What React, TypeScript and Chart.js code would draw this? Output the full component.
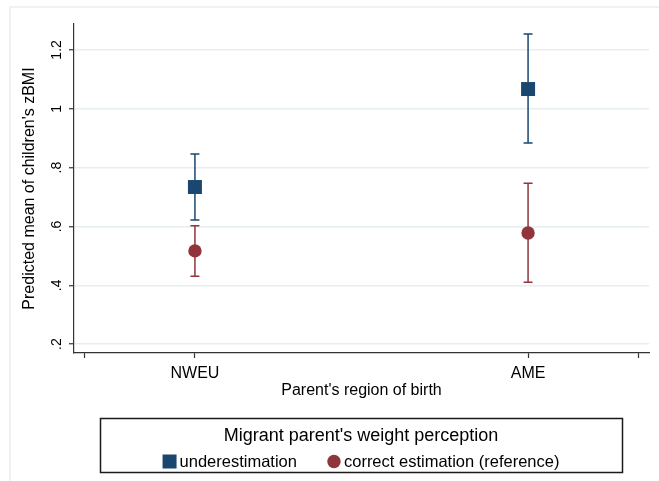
import { useEffect, useRef } from 'react';
import { Chart, registerables } from 'chart.js';

Chart.register(...registerables);

// ---- data ----
const categories = ['NWEU', 'AME'];
const categoryPositions = [1, 2];
const seriesLabels = ['underestimation', 'correct estimation (reference)'];
const legendTitle = "Migrant parent's weight perception";
const xAxisTitle = "Parent's region of birth";
const yAxisTitle = "Predicted mean of children's zBMI";

const underMean = [0.734, 1.067];
const underLow = [0.622, 0.884];
const underHigh = [0.846, 1.254];

const correctMean = [0.517, 0.578];
const correctLow = [0.431, 0.41];
const correctHigh = [0.602, 0.747];

const xTickValues = [0.67, 1, 2, 2.33];
const xTickLabels = ['', categories[0], categories[1], ''];
const yTickValues = [0.2, 0.4, 0.6, 0.8, 1, 1.2];
const yTickLabels = ['.2', '.4', '.6', '.8', '1', '1.2'];

const NAVY = '#1a476f';
const MAROON = '#90353b';
const FONT = '"Liberation Sans", Arial, Helvetica, sans-serif';

const backgroundPlugin = {
  id: 'stataBackground',
  beforeDraw(chart: any) {
    const { ctx, width, height } = chart;
    ctx.save();
    ctx.fillStyle = '#ffffff';
    ctx.fillRect(0, 0, width, height);
    ctx.strokeStyle = '#e8eff1';
    ctx.lineWidth = 1.5;
    ctx.strokeRect(10, 7, width + 20, height + 20);
    ctx.restore();
  },
};

const errorBarPlugin = {
  id: 'errorBars',
  beforeDatasetsDraw(chart: any) {
    const { ctx } = chart;
    const xs = chart.scales.x;
    const ys = chart.scales.y;
    chart.data.datasets.forEach((ds: any) => {
      ctx.save();
      ctx.strokeStyle = ds.borderColor;
      ctx.lineWidth = 1.5;
      ds.data.forEach((p: any, j: number) => {
        const px = xs.getPixelForValue(p.x);
        const yl = ys.getPixelForValue(ds.ciLow[j]);
        const yh = ys.getPixelForValue(ds.ciHigh[j]);
        ctx.beginPath();
        ctx.moveTo(px, yl);
        ctx.lineTo(px, yh);
        ctx.moveTo(px - 4.5, yl);
        ctx.lineTo(px + 4.5, yl);
        ctx.moveTo(px - 4.5, yh);
        ctx.lineTo(px + 4.5, yh);
        ctx.stroke();
      });
      ctx.restore();
    });
  },
};

const legendBoxPlugin = {
  id: 'legendBox',
  afterDraw(chart: any) {
    const { ctx } = chart;
    const left = 100;
    const top = 418;
    const right = 622;
    const bottom = 472;
    const cx = (left + right) / 2;
    ctx.save();
    ctx.strokeStyle = '#1a1a1a';
    ctx.lineWidth = 1.5;
    ctx.strokeRect(left + 0.5, top + 0.5, right - left, bottom - top);

    ctx.fillStyle = '#000';
    ctx.font = `18px ${FONT}`;
    ctx.textAlign = 'center';
    ctx.textBaseline = 'alphabetic';
    ctx.fillText(legendTitle, cx, 441);

    ctx.font = `16.5px ${FONT}`;
    const items = chart.data.datasets.map((ds: any) => ({
      label: ds.label,
      color: ds.backgroundColor,
      style: ds.pointStyle,
    }));
    const markerW = 14;
    const gapMT = 3;
    const gapItems = 30;
    const widths = items.map((it: any) => markerW + gapMT + ctx.measureText(it.label).width);
    const total = widths.reduce((a: number, b: number) => a + b, 0) + gapItems * (items.length - 1);
    let x = cx - total / 2;
    const rowY = 461.5;
    items.forEach((it: any, i: number) => {
      ctx.fillStyle = it.color;
      if (it.style === 'rect') {
        ctx.fillRect(x, rowY - 7, 14, 14);
      } else {
        ctx.beginPath();
        ctx.arc(x + 7, rowY, 6.7, 0, Math.PI * 2);
        ctx.fill();
      }
      ctx.fillStyle = '#000';
      ctx.textAlign = 'left';
      ctx.textBaseline = 'alphabetic';
      ctx.fillText(it.label, x + markerW + gapMT, 467);
      x += widths[i] + gapItems;
    });
    ctx.restore();
  },
};

export default function App() {
  const canvasRef = useRef<HTMLCanvasElement | null>(null);

  useEffect(() => {
    if (!canvasRef.current) return;
    const chart = new Chart(canvasRef.current, {
      type: 'scatter',
      data: {
        datasets: [
          {
            label: seriesLabels[0],
            data: categoryPositions.map((x, i) => ({ x, y: underMean[i] })),
            pointStyle: 'rect',
            pointRadius: 9.9,
            pointHoverRadius: 9.9,
            backgroundColor: NAVY,
            borderColor: NAVY,
            borderWidth: 0,
            ciLow: underLow,
            ciHigh: underHigh,
          } as any,
          {
            label: seriesLabels[1],
            data: categoryPositions.map((x, i) => ({ x, y: correctMean[i] })),
            pointStyle: 'circle',
            pointRadius: 6.7,
            pointHoverRadius: 6.7,
            backgroundColor: MAROON,
            borderColor: MAROON,
            borderWidth: 0,
            ciLow: correctLow,
            ciHigh: correctHigh,
          } as any,
        ],
      },
      options: {
        animation: false,
        responsive: false,
        devicePixelRatio: 1,
        events: [],
        layout: { padding: { top: 24, right: 10, left: 0, bottom: 78 } },
        plugins: {
          legend: { display: false },
          tooltip: { enabled: false },
        },
        scales: {
          x: {
            type: 'linear',
            min: 0.637,
            max: 2.363,
            afterBuildTicks: (s: any) => {
              s.ticks = xTickValues.map((v) => ({ value: v }));
            },
            afterFit: (s: any) => {
              s.height = 50;
            },
            border: { color: '#333', width: 1.2 },
            grid: { drawOnChartArea: false, tickColor: '#333', tickLength: 5, tickWidth: 1.2 },
            ticks: {
              autoSkip: false,
              maxRotation: 0,
              minRotation: 0,
              padding: 6,
              color: '#000',
              font: { family: FONT, size: 16 },
              callback: (_v: any, i: number) => xTickLabels[i],
            },
            title: {
              display: true,
              text: xAxisTitle,
              color: '#000',
              font: { family: FONT, size: 16 },
              padding: { top: 0, bottom: 3 },
            },
          },
          y: {
            type: 'linear',
            min: 0.17,
            max: 1.288,
            afterBuildTicks: (s: any) => {
              s.ticks = yTickValues.map((v) => ({ value: v }));
            },
            afterFit: (s: any) => {
              s.width = 74;
            },
            border: { color: '#333', width: 1.2 },
            grid: { color: '#e6eef1', lineWidth: 1.5, tickColor: '#333', tickLength: 5, tickWidth: 1.2 },
            ticks: {
              autoSkip: false,
              minRotation: 90,
              maxRotation: 90,
              crossAlign: 'center',
              padding: 2,
              color: '#000',
              font: { family: FONT, size: 14 },
              callback: (_v: any, i: number) => yTickLabels[i],
            },
            title: {
              display: true,
              text: yAxisTitle,
              color: '#000',
              font: { family: FONT, size: 16 },
              padding: { top: 20, bottom: 0 },
            },
          },
        },
      },
      plugins: [backgroundPlugin, errorBarPlugin, legendBoxPlugin],
    } as any);
    return () => chart.destroy();
  }, []);

  return (
    <div style={{ position: 'absolute', left: 0, top: 0, width: 659, height: 481, background: '#fff' }}>
      <canvas ref={canvasRef} width={659} height={481} style={{ display: 'block', width: 659, height: 481 }} />
    </div>
  );
}
